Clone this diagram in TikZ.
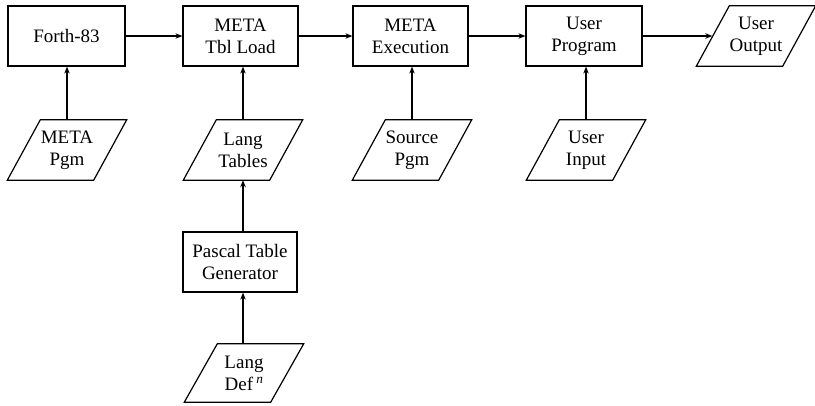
\documentclass[tikz,border=0pt]{standalone}
\usepackage{fontspec}
\setmainfont{Liberation Serif}
\usetikzlibrary{arrows.meta}
\tikzset{
  proc/.style={draw, line width=1.2pt, minimum height=60pt, inner sep=0pt, align=center,
    font=\fontsize{19}{22}\selectfont},
  iobox/.style={minimum width=86pt, minimum height=60pt, inner sep=0pt, align=center,
    font=\fontsize{19}{22}\selectfont},
  frame/.style={line width=1.2pt, line join=miter},
  conn/.style={line width=1.5pt, -{Stealth[length=7pt,width=5.5pt]}}
}
\newcommand\iodraw[1]{\draw[frame] ([xshift=16.5pt]#1.north west) -- ([xshift=16.5pt]#1.north east) -- ([xshift=-16.5pt]#1.south east) -- ([xshift=-16.5pt]#1.south west) -- cycle;}
\begin{document}
\begin{tikzpicture}[x=1pt,y=-1pt]
\useasboundingbox (0,0) rectangle (815,405);
% top row
\node[proc, minimum width=117pt] (forth) at (66.5,36) {Forth-83};
\node[proc, minimum width=115pt] (mtl) at (240.5,36) {META\\Tbl Load};
\node[proc, minimum width=115pt] (mex) at (410.5,36) {META\\Execution};
\node[proc, minimum width=116pt] (up) at (584,36) {User\\Program};
\node[iobox] (uo) at (756,36) {User\\Output}; \iodraw{uo}
% second row
\node[iobox] (mp) at (67,150) {META\\Pgm}; \iodraw{mp}
\node[iobox] (lt) at (243,150) {Lang\\Tables}; \iodraw{lt}
\node[iobox] (sp) at (412,150) {Source\\Pgm}; \iodraw{sp}
\node[iobox] (ui) at (586,150) {User\\Input}; \iodraw{ui}
% lower
\node[proc, minimum width=114pt, minimum height=60pt] (ptg) at (240,262) {Pascal Table\\Generator};
\node[iobox, minimum height=58pt] (ld) at (244,373) {Lang\\Def\,\textsuperscript{\itshape n}}; \iodraw{ld}
% connectors
\draw[conn] (forth) -- (mtl);
\draw[conn] (mtl) -- (mex);
\draw[conn] (mex) -- (up);
\draw[conn] (up.east) -- ([xshift=-0.5pt]uo.west);
\draw[conn] (mp.north) -- (mp.north |- forth.south);
\draw[conn] (lt.north) -- (lt.north |- mtl.south);
\draw[conn] (sp.north) -- (sp.north |- mex.south);
\draw[conn] (ui.north) -- (ui.north |- up.south);
\draw[conn] (lt.south |- ptg.north) -- (lt.south);
\draw[conn] (ld.north -| lt.south) -- (lt.south |- ptg.south);
\end{tikzpicture}
\end{document}
